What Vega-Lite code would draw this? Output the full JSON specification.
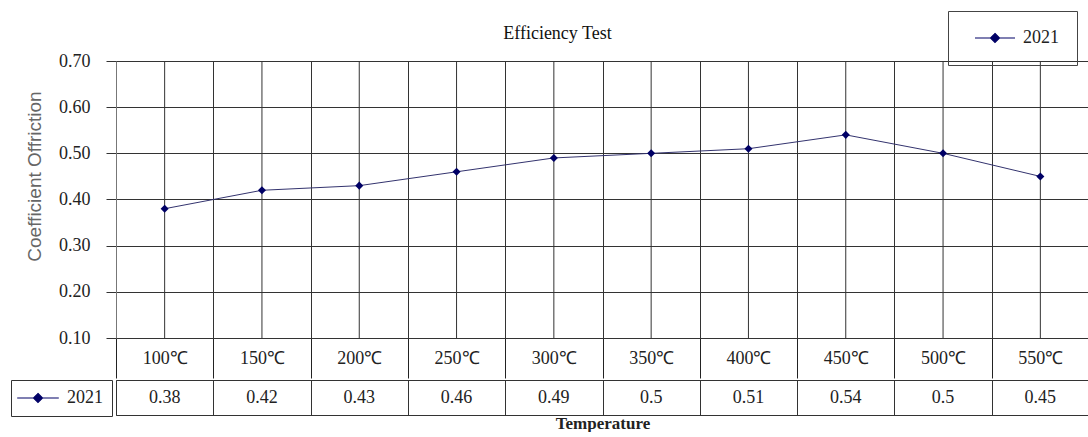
{
  "$schema": "https://vega.github.io/schema/vega-lite/v6.json",
  "padding": {"left": 10, "top": 10, "right": 0, "bottom": 0},
  "background": "white",
  "config": {
    "view": {"stroke": "#333", "strokeWidth": 1},
    "font": "Liberation Serif"
  },
  "data": {
    "values": [
      {"temp": "100℃", "value": 0.38, "series": "2021"},
      {"temp": "150℃", "value": 0.42, "series": "2021"},
      {"temp": "200℃", "value": 0.43, "series": "2021"},
      {"temp": "250℃", "value": 0.46, "series": "2021"},
      {"temp": "300℃", "value": 0.49, "series": "2021"},
      {"temp": "350℃", "value": 0.5, "series": "2021"},
      {"temp": "400℃", "value": 0.51, "series": "2021"},
      {"temp": "450℃", "value": 0.54, "series": "2021"},
      {"temp": "500℃", "value": 0.5, "series": "2021"},
      {"temp": "550℃", "value": 0.45, "series": "2021"}
    ]
  },
  "spacing": 0,
  "resolve": {"scale": {"color": "independent"}, "legend": {"color": "independent"}},
  "vconcat": [
    {
      "width": 973,
      "height": 277,
      "resolve": {"axis": {"x": "independent"}},
      "layer": [
        {
          "mark": {"type": "rule", "color": "#333", "strokeWidth": 1},
          "encoding": {
            "x": {
              "field": "temp", "type": "nominal", "sort": null,
              "axis": {"orient": "top", "title": "Efficiency Test", "titleFont": "Liberation Serif", "titleFontSize": 18, "titleFontWeight": "normal", "titleColor": "#111", "titlePadding": 19, "titleX": 441, "labels": false, "ticks": false, "domain": false, "grid": false}
            }
          }
        },
        {
          "mark": {"type": "line", "color": "#33336e", "strokeWidth": 1},
          "encoding": {
            "x": {
              "field": "temp", "type": "nominal", "sort": null,
              "axis": {"orient": "bottom", "title": null, "tickBand": "extent", "tickSize": 40, "tickColor": "#222", "labelAngle": 0, "labelPadding": -20, "labelBaseline": "middle", "labelFont": "Liberation Serif", "labelFontSize": 18, "labelColor": "#222", "grid": true, "gridColor": "#333", "gridOpacity": 1, "domainColor": "#333"}
            },
            "y": {
              "field": "value", "type": "quantitative",
              "scale": {"domain": [0.1, 0.7], "nice": false, "zero": false},
              "axis": {"values": [0.1, 0.2, 0.3, 0.4, 0.5, 0.6, 0.7], "format": ".2f", "grid": true, "gridColor": "#333", "gridOpacity": 1, "tickSize": 10, "tickColor": "#333", "domainColor": "#777", "labelPadding": 16, "labelFont": "Liberation Serif", "labelFontSize": 18, "labelColor": "#222", "title": "Coefficient Offriction", "titleFont": "Liberation Sans", "titleFontSize": 19, "titleFontWeight": "normal", "titleColor": "#666", "titlePadding": 14, "titleY": 115}
            }
          }
        },
        {
          "mark": {"type": "point", "shape": "diamond", "filled": true, "size": 65, "opacity": 1},
          "encoding": {
            "x": {"field": "temp", "type": "nominal", "sort": null, "axis": null},
            "y": {"field": "value", "type": "quantitative"},
            "color": {
              "field": "series", "type": "nominal",
              "scale": {"range": ["#000066"]},
              "legend": {"title": null, "orient": "none", "legendX": 832, "legendY": -50, "strokeColor": "#444", "padding": 18, "symbolType": "M-2.5,0H2.5M0,-0.56L0.56,0L0,0.56L-0.56,0Z", "symbolSize": 256, "symbolStrokeWidth": 1.2, "symbolFillColor": "#000066", "symbolStrokeColor": "#000066", "symbolOpacity": 1, "symbolOffset": 20, "labelOffset": 19, "labelFont": "Liberation Serif", "labelFontSize": 18, "labelColor": "#222"}
            }
          }
        }
      ]
    },
    {
      "width": 973,
      "height": 35,
      "encoding": {
        "x": {
          "field": "temp", "type": "nominal", "sort": null,
          "axis": {"title": "Temperature", "titleFont": "Liberation Serif", "titleFontSize": 17, "titleFontWeight": "bold", "titleColor": "#222", "titlePadding": 0, "tickBand": "extent", "labels": false, "ticks": false, "domain": false, "grid": true, "gridColor": "#333", "gridOpacity": 1}
        }
      },
      "layer": [
        {
          "mark": {"type": "text", "font": "Liberation Serif", "fontSize": 18, "color": "#222"},
          "encoding": {"text": {"field": "value", "type": "quantitative"}}
        },
        {
          "mark": {"type": "point", "opacity": 0, "filled": true},
          "encoding": {
            "color": {
              "field": "series", "type": "nominal",
              "scale": {"range": ["#000066"]},
              "legend": {"title": null, "orient": "none", "legendX": -105, "legendY": 0, "strokeColor": "#333", "padding": 9, "symbolType": "M-2.6,0H2.6M0,-0.56L0.56,0L0,0.56L-0.56,0Z", "symbolSize": 256, "symbolStrokeWidth": 1.2, "symbolFillColor": "#000066", "symbolStrokeColor": "#000066", "symbolOpacity": 1, "symbolOffset": 9, "labelOffset": 20, "labelFont": "Liberation Serif", "labelFontSize": 18, "labelColor": "#222"}
            }
          }
        }
      ]
    }
  ]
}
